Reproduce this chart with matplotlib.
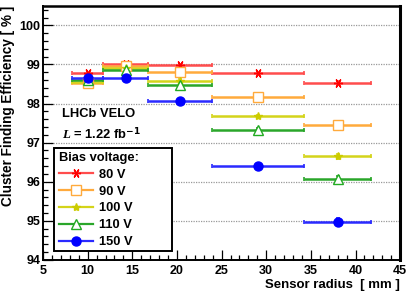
import matplotlib
matplotlib.use("Agg")
import matplotlib.pyplot as plt
from matplotlib.patches import Rectangle
from matplotlib.ticker import MultipleLocator
import numpy as np

plt.rcParams["font.family"] = ["Liberation Sans", "DejaVu Sans"]
plt.rcParams["font.weight"] = "bold"
plt.rcParams["mathtext.fontset"] = "custom"
plt.rcParams["mathtext.it"] = "Liberation Serif:italic"

# radial bins of the sensor (mm) and where each point sits inside its bin
bin_lo = [8.2, 11.75, 16.7, 23.9, 34.25]
bin_hi = [11.75, 16.7, 23.9, 34.25, 41.75]
radius = [10.0, 14.25, 20.35, 29.1, 38.0]

voltages = ["80 V", "90 V", "100 V", "110 V", "150 V"]
eff_80 = [98.79, 99.01, 98.99, 98.77, 98.53]
eff_90 = [98.53, 98.95, 98.80, 98.17, 97.44]
eff_100 = [98.56, 98.90, 98.59, 97.68, 96.65]
eff_110 = [98.60, 98.85, 98.47, 97.33, 96.07]
eff_150 = [98.65, 98.65, 98.07, 96.39, 94.96]
err_80 = [0.03, 0.03, 0.03, 0.04, 0.05]
err_90 = [0.03, 0.03, 0.03, 0.04, 0.05]
err_100 = [0.03, 0.03, 0.03, 0.04, 0.07]
err_110 = [0.03, 0.03, 0.03, 0.04, 0.07]
err_150 = [0.03, 0.03, 0.03, 0.05, 0.10]

series = [eff_80, eff_90, eff_100, eff_110, eff_150]
errors = [err_80, err_90, err_100, err_110, err_150]
line_col = ["#ff4d4d", "#ffaa3c", "#d4d41a", "#2aa62a", "#2a2aff"]
mk_col = ["#ff0000", "#ffaa3c", "#cccc00", "#22aa22", "#0000ff"]
markers = [(6, 2, 90), "s", "*", "^", "o"]
filled = [True, False, True, False, True]
msizes = [6.5, 6.5, 6, 6.5, 6.5]

fig = plt.figure(figsize=(4.10, 2.94), dpi=100)
ax = fig.add_axes([0.105, 0.116, 0.871, 0.864])

x = np.array(radius)
xerr = [x - np.array(bin_lo), np.array(bin_hi) - x]
for y, e, lc, mc, m, f, ms, lab in zip(series, errors, line_col, mk_col,
                                        markers, filled, msizes, voltages):
    ax.errorbar(x, y, xerr=xerr, yerr=e, fmt="none", ecolor=lc, elinewidth=1.8,
                capsize=1.2, capthick=1.2, zorder=3)
    ax.plot([], [], color=lc, lw=1.6, marker=m, ms=ms, mec=mc,
            mfc=mc if f else "white", mew=1.0, label=lab)
    ax.plot(x, y, ls="none", marker=m, ms=ms, mec=mc,
            mfc=mc if f else "white", mew=1.0, zorder=4)

ax.set_xlim(5, 45)
ax.set_ylim(94, 100.5)
ax.xaxis.set_major_locator(MultipleLocator(5))
ax.xaxis.set_minor_locator(MultipleLocator(1))
ax.yaxis.set_major_locator(MultipleLocator(1))
ax.yaxis.set_minor_locator(MultipleLocator(0.2))
ax.tick_params(which="both", direction="in", top=False, right=False,
               labelsize=9, width=0.9)
ax.tick_params(which="major", length=7)
ax.tick_params(which="minor", length=3.5)
ax.tick_params(axis="x", pad=4)
ax.tick_params(axis="y", pad=2)
for lbl in ax.get_xticklabels() + ax.get_yticklabels():
    lbl.set_fontweight("bold")
ax.yaxis.grid(True, which="major", ls=(0, (1, 1)), color="#999999", lw=0.9)
ax.set_axisbelow(True)
for s in ax.spines.values():
    s.set_linewidth(1.4)
ax.spines["right"].set_linewidth(2.2)
ax.spines["top"].set_linewidth(1.8)

ax.set_ylabel("Cluster Finding Efficiency [ % ]", fontsize=9.8, fontweight="bold",
              loc="top", labelpad=3)
ax.set_xlabel("Sensor radius  [ mm ]", fontsize=9.5, fontweight="bold",
              loc="right", labelpad=1)

ax.text(0.053, 0.575, "LHCb VELO", transform=ax.transAxes, fontsize=9.3,
        fontweight="bold", va="center", ha="left")
ax.text(0.053, 0.50, r"$\mathit{L}$ = 1.22 fb$^{\mathbf{-1}}$", transform=ax.transAxes,
        fontsize=9.3, fontweight="bold", va="center", ha="left")

# legend frame is wider than its content in the original
ax.add_patch(Rectangle((0.031, 0.035), 0.33, 0.406, transform=ax.transAxes,
                       facecolor="white", edgecolor="black", lw=1.4, zorder=5))
leg = ax.legend(loc="upper left", bbox_to_anchor=(0.035, 0.44), borderaxespad=0,
                title="Bias voltage:", alignment="left", frameon=False,
                fontsize=9.3, handlelength=2.6, handletextpad=0.45,
                labelspacing=0.37, borderpad=0.3,
                title_fontproperties={"weight": "bold", "size": 9.3})
leg.set_zorder(6)
for t in leg.get_texts():
    t.set_fontweight("bold")

fig.savefig("out.png", dpi=100)
